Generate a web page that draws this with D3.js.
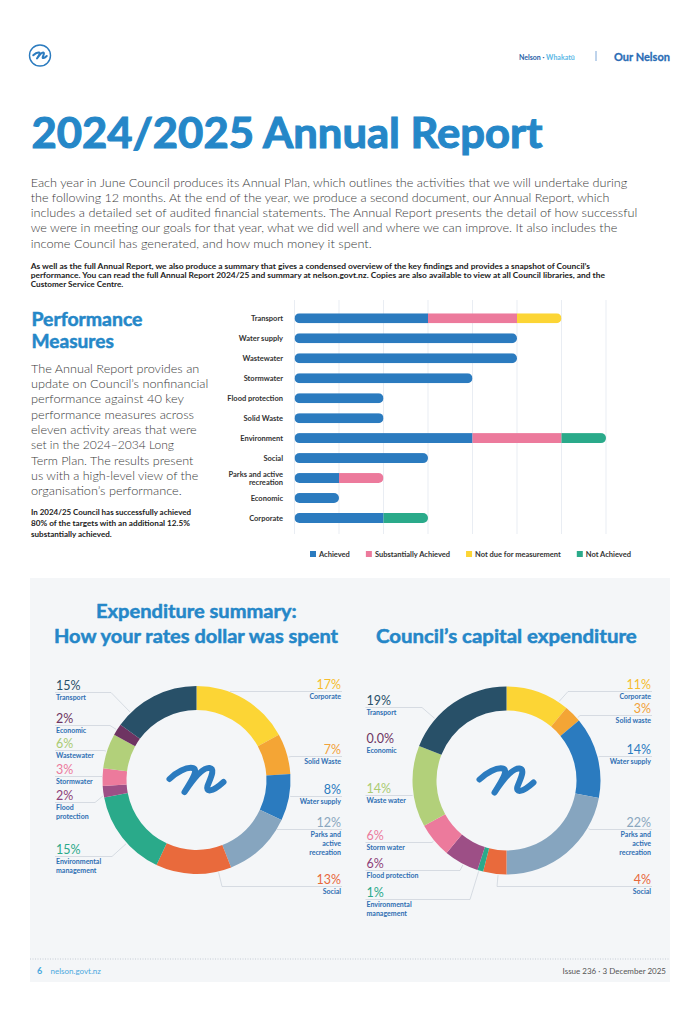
<!DOCTYPE html>
<html>
<head>
<meta charset="utf-8">
<script src="https://cdn.jsdelivr.net/npm/d3@7"></script>
<style>
  body { margin: 0; background: #fff; }
  svg { display: block; }
</style>
</head>
<body>
<svg id="page" width="700" height="1024"></svg>
<script>
// ---- data ----
const perfAreas = ["Transport", "Water supply", "Wastewater", "Stormwater", "Flood protection", "Solid Waste",
  "Environment", "Social", "Parks and active|recreation", "Economic", "Corporate"]
const achieved      = [3, 5, 5, 4, 2, 2, 4, 3, 1, 1, 2]
const substantially = [2, 0, 0, 0, 0, 0, 2, 0, 1, 0, 0]
const notDue        = [1, 0, 0, 0, 0, 0, 0, 0, 0, 0, 0]
const notAchieved   = [0, 0, 0, 0, 0, 0, 1, 0, 0, 0, 1]
const statusNames = ["Achieved", "Substantially Achieved", "Not due for measurement", "Not Achieved"]
const perfTicks = [0, 1, 2, 3, 4, 5, 6, 7]

const rateNames = ["Corporate", "Solid Waste", "Water supply", "Parks and|active|recreation", "Social",
  "Environmental|management", "Flood|protection", "Stormwater", "Wastewater", "Economic", "Transport"]
const ratePercents = [17, 7, 8, 12, 13, 15, 2, 3, 6, 2, 15]

const capNames = ["Corporate", "Solid waste", "Water supply", "Parks and|active|recreation", "Social",
  "Environmental|management", "Flood protection", "Storm water", "Waste water", "Economic", "Transport"]
const capPercents = [11, 3, 14, 22, 4, 1, 6, 6, 14, 0, 19]

// ---- styles ----
const font = "Lato, 'Open Sans', sans-serif"
const titleBlue = "#2587c8"
const statusColors = ["#2b7bbf", "#ec7a9c", "#fcd535", "#2aaa8a"]
const segColors = ["#fcd535", "#f4a535", "#2b7bbf", "#86a5bf", "#e96a3c", "#2aaa8a",
  "#9d4f86", "#ec7a9c", "#b2d07a", "#6e3462", "#285068"]
const pctColors = ["#f6bd2c", "#f2a23a", "#2b7bbf", "#8aa6be", "#e8683b", "#2aa98a",
  "#8e3f78", "#ec7a9c", "#aacb72", "#6e3462", "#285068"]

const svg = d3.select("#page")

// ---- logo ----
function logo(g, cx, cy, s, sw) {
  g.append("path")
    .attr("transform", "translate(" + cx + "," + cy + ") scale(" + s + ")")
    .attr("d", "M-27,-1 C-20,-8 -10,-13 -4,-12 C2,-11 -3,-2 -12,12 C-4,0 6,-13 13,-12 C19,-11 14,-2 11,6 C9,12 15,13 27,2")
    .attr("fill", "none")
    .attr("stroke", "#2b7bbf")
    .attr("stroke-width", sw)
    .attr("stroke-linecap", "round")
    .attr("stroke-linejoin", "round")
}

// ---- header ----
svg.append("circle").attr("cx", 40).attr("cy", 55.5).attr("r", 10.5)
  .attr("fill", "none").attr("stroke", "#2b7bbf").attr("stroke-width", 1.4)
logo(svg, 40, 55.5, 0.25, 8)

const hdr = svg.append("text").attr("x", 519).attr("y", 59.5)
  .style("font-family", font).style("font-size", "7px").style("font-weight", 700)
hdr.append("tspan").attr("fill", "#2a5fa8").text("Nelson")
hdr.append("tspan").attr("fill", "#2a5fa8").text(" · ")
hdr.append("tspan").attr("fill", "#5bb8e6").text("Whakatū")
svg.append("line").attr("x1", 596).attr("x2", 596).attr("y1", 51).attr("y2", 61)
  .attr("stroke", "#7fa8d8").attr("stroke-width", 1)
svg.append("text").attr("x", 614).attr("y", 61).attr("textLength", 56).attr("lengthAdjust", "spacingAndGlyphs")
  .style("font-family", font).style("font-size", "12px").style("font-weight", 700)
  .attr("fill", "#2a6cb5").attr("stroke", "#2a6cb5").attr("stroke-width", 0.3).text("Our Nelson")

// ---- title & intro ----
svg.append("text").attr("x", 31.5).attr("y", 148).attr("textLength", 511).attr("lengthAdjust", "spacingAndGlyphs")
  .style("font-family", font).style("font-size", "42px").style("font-weight", 700)
  .attr("fill", titleBlue).attr("stroke", titleBlue).attr("stroke-width", 1.1)
  .text("2024/2025 Annual Report")

function textBlock(x, y0, lh, lines, widths, size, weight, color, sw) {
  lines.forEach((t, i) => {
    const el = svg.append("text").attr("x", x).attr("y", y0 + i * lh)
      .attr("textLength", widths[i]).attr("lengthAdjust", "spacingAndGlyphs")
      .style("font-family", font).style("font-size", size + "px").style("font-weight", weight)
      .attr("fill", color).text(t)
    if (sw) el.attr("stroke", color).attr("stroke-width", sw)
  })
}

textBlock(30.7, 186.7, 15.2, [
  "Each year in June Council produces its Annual Plan, which outlines the activities that we will undertake during",
  "the following 12 months. At the end of the year, we produce a second document, our Annual Report, which",
  "includes a detailed set of audited financial statements. The Annual Report presents the detail of how successful",
  "we were in meeting our goals for that year, what we did well and where we can improve. It also includes the",
  "income Council has generated, and how much money it spent."
], [596.6, 578.6, 606.6, 586.6, 341], 12.5, 300, "#3a3a3a")

textBlock(30.7, 268.6, 9.3, [
  "As well as the full Annual Report, we also produce a summary that gives a condensed overview of the key findings and provides a snapshot of Council’s",
  "performance. You can read the full Annual Report 2024/25 and summary at nelson.govt.nz. Copies are also available to view at all Council libraries, and the",
  "Customer Service Centre."
], [559.3, 574.3, 92.6], 7.2, 700, "#222")

// ---- performance measures text ----
textBlock(31.5, 326, 22.3, ["Performance", "Measures"], [111, 82.3], 18.5, 700, titleBlue, 0.5)
textBlock(31, 372.7, 15.3, [
  "The Annual Report provides an",
  "update on Council’s nonfinancial",
  "performance against 40 key",
  "performance measures across",
  "eleven activity areas that were",
  "set in the 2024–2034 Long",
  "Term Plan. The results present",
  "us with a high-level view of the",
  "organisation’s performance."
], [168.3, 177.3, 153, 163, 165.7, 143, 162.3, 167.3, 150.7], 12.5, 300, "#3a3a3a")
textBlock(31, 515, 11.2, [
  "In 2024/25 Council has successfully achieved",
  "80% of the targets with an additional 12.5%",
  "substantially achieved."
], [160, 159, 80.7], 7.2, 700, "#222")

// ---- stacked bar chart ----
const series = [achieved, substantially, notDue, notAchieved]
const x = d3.scaleLinear().domain([0, 7]).range([294.5, 606])
const y = d3.scalePoint().domain(perfAreas).range([318.3, 518])
const barH = 10

svg.append("g").selectAll("line").data(perfTicks).enter().append("line")
  .attr("x1", d => x(d)).attr("x2", d => x(d))
  .attr("y1", 300).attr("y2", 534)
  .attr("stroke", "#e9edf3").attr("stroke-width", 1)

const rows = perfAreas.map((name, i) => {
  let acc = 0
  const segs = series.map((s, k) => {
    const seg = { k: k, x0: acc, x1: acc + s[i] }
    acc += s[i]
    return seg
  }).filter(s => s.x1 > s.x0)
  return { name: name, total: acc, segs: segs }
})

const defs = svg.append("defs")
rows.forEach((r, i) => {
  defs.append("clipPath").attr("id", "bar" + i).append("rect")
    .attr("x", x(0)).attr("y", y(r.name) - barH / 2)
    .attr("width", x(r.total) - x(0)).attr("height", barH).attr("rx", barH / 2)
  svg.append("g").attr("clip-path", "url(#bar" + i + ")")
    .selectAll("rect").data(r.segs).enter().append("rect")
    .attr("x", d => x(d.x0)).attr("y", y(r.name) - barH / 2)
    .attr("width", d => x(d.x1) - x(d.x0)).attr("height", barH)
    .attr("fill", d => statusColors[d.k])
})

perfAreas.forEach(name => {
  const parts = name.split("|")
  const t = svg.append("text").attr("text-anchor", "end")
    .style("font-family", font).style("font-size", "7.5px").style("font-weight", 700).attr("fill", "#333")
  parts.forEach((p, j) => {
    t.append("tspan").attr("x", 283)
      .attr("y", y(name) + 2.7 + (j - (parts.length - 1) / 2) * 8.5).text(p)
  })
})

let lx = 310
statusNames.forEach((s, k) => {
  svg.append("rect").attr("x", lx).attr("y", 551).attr("width", 6).attr("height", 6).attr("fill", statusColors[k])
  const t = svg.append("text").attr("x", lx + 9).attr("y", 556.7)
    .style("font-family", font).style("font-size", "7.5px").style("font-weight", 700).attr("fill", "#333").text(s)
  lx += 9 + t.node().getComputedTextLength() + 16
})

// ---- expenditure panel ----
svg.append("rect").attr("x", 30).attr("y", 578).attr("width", 640).attr("height", 404).attr("fill", "#f4f6f8")

function heading(cx, yy, txt, w) {
  svg.append("text").attr("x", cx - w / 2).attr("y", yy).attr("textLength", w).attr("lengthAdjust", "spacingAndGlyphs")
    .style("font-family", font).style("font-size", "19px").style("font-weight", 700)
    .attr("fill", titleBlue).attr("stroke", titleBlue).attr("stroke-width", 0.5).text(txt)
}
heading(196.4, 618.3, "Expenditure summary:", 200.7)
heading(196, 643.3, "How your rates dollar was spent", 284)
heading(506.3, 643.3, "Council’s capital expenditure", 260.7)

const leftLayout = {
  cx: 196.5, cy: 780, lx: 56, rx: 341,
  labels: [
    { i: 0, side: "r", y: 689, ex: 230 }, { i: 1, side: "r", y: 754, ex: 291 },
    { i: 2, side: "r", y: 794, ex: 291 }, { i: 3, side: "r", y: 827, ex: 277 },
    { i: 4, side: "r", y: 884, ex: 222 }, { i: 5, side: "l", y: 854, ex: 112 },
    { i: 6, side: "l", y: 800, ex: 95 }, { i: 7, side: "l", y: 774, ex: 102 },
    { i: 8, side: "l", y: 748, ex: 104 }, { i: 9, side: "l", y: 723, ex: 110 },
    { i: 10, side: "l", y: 690, ex: 111 }
  ]
}
const rightLayout = {
  cx: 506.5, cy: 780.5, lx: 366.5, rx: 651,
  labels: [
    { i: 0, side: "r", y: 689, ex: 568 }, { i: 1, side: "r", y: 713, ex: 580 },
    { i: 2, side: "r", y: 754, ex: 600 }, { i: 3, side: "r", y: 827, ex: 590 },
    { i: 4, side: "r", y: 884, ex: 497 }, { i: 5, side: "l", y: 897, ex: 470 },
    { i: 6, side: "l", y: 868, ex: 460 }, { i: 7, side: "l", y: 840, ex: 432 },
    { i: 8, side: "l", y: 793, ex: 412 }, { i: 9, side: "l", y: 743, ex: null },
    { i: 10, side: "l", y: 705, ex: 422 }
  ]
}

function donut(values, names, layout) {
  const pie = d3.pie().sort(null).value(d => d)(values)
  const arc = d3.arc().innerRadius(70).outerRadius(94)
  const g = svg.append("g").attr("transform", "translate(" + layout.cx + "," + layout.cy + ")")

  // leader lines first, under the ring
  layout.labels.forEach(l => {
    if (l.ex === null) return
    const d = pie[l.i]
    const ly = l.y + 2.5
    const sx = l.side === "l" ? layout.lx - 1 : layout.rx + 1
    let a = Math.atan2(l.ex - layout.cx, -(ly - layout.cy))
    if (a < 0) a += 2 * Math.PI
    const pad = (d.endAngle - d.startAngle) * 0.15
    a = Math.max(d.startAngle + pad, Math.min(d.endAngle - pad, a))
    const px = layout.cx + 95 * Math.sin(a), py = layout.cy - 95 * Math.cos(a)
    svg.append("polyline")
      .attr("points", [[sx, ly], [l.ex, ly], [px, py]].map(p => p.join(",")).join(" "))
      .attr("fill", "none").attr("stroke", "#c9d0d8").attr("stroke-width", 0.7)
  })

  g.selectAll("path").data(pie).enter().append("path")
    .attr("d", arc).attr("fill", (d, i) => segColors[i])
  logo(g, 0, 0, 1, 6)

  layout.labels.forEach(l => {
    const anchor = l.side === "l" ? "start" : "end"
    const tx = l.side === "l" ? layout.lx : layout.rx
    const v = values[l.i]
    svg.append("text").attr("x", tx).attr("y", l.y).attr("text-anchor", anchor)
      .style("font-family", font).style("font-size", "12.5px").style("font-weight", 400)
      .attr("fill", pctColors[l.i]).text(v === 0 ? "0.0%" : v + "%")
    const t = svg.append("text").attr("text-anchor", anchor)
      .style("font-family", font).style("font-size", "7px").style("font-weight", 700).attr("fill", "#2f6fb3")
    names[l.i].split("|").forEach((p, j) => {
      t.append("tspan").attr("x", tx).attr("y", l.y + 10.3 + j * 8.7).text(p)
    })
  })
}
donut(ratePercents, rateNames, leftLayout)
donut(capPercents, capNames, rightLayout)

// ---- footer ----
svg.append("line").attr("x1", 30).attr("x2", 670).attr("y1", 959).attr("y2", 959)
  .attr("stroke", "#b9c2cc").attr("stroke-width", 0.8).attr("stroke-dasharray", "1,1.5")
svg.append("text").attr("x", 37).attr("y", 974)
  .style("font-family", font).style("font-size", "9px").style("font-weight", 700)
  .attr("fill", "#4aa8de").text("6")
svg.append("text").attr("x", 50.5).attr("y", 974)
  .style("font-family", font).style("font-size", "8px").attr("fill", "#4aa8de").text("nelson.govt.nz")
svg.append("text").attr("x", 666).attr("y", 974).attr("text-anchor", "end")
  .style("font-family", font).style("font-size", "8px").attr("fill", "#555").text("Issue 236  ·  3 December 2025")
</script>
</body>
</html>
